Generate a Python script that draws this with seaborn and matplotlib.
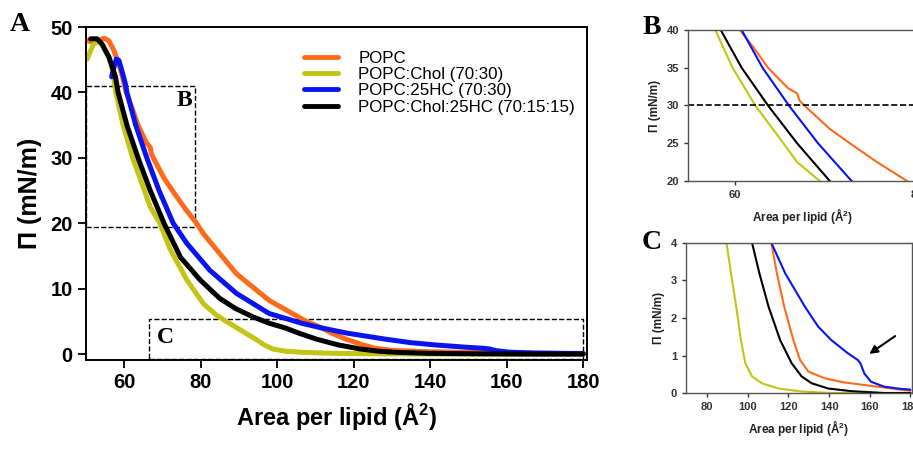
import numpy as np
import pandas as pd
import matplotlib
matplotlib.use('Agg')
import matplotlib.pyplot as plt
import seaborn as sns
from matplotlib.patches import Rectangle

# isotherm data (area per lipid in A^2, surface pressure in mN/m)
popc_x = [49.9, 51.6, 53.0, 54.7, 56.0, 57.3, 58.5, 59.5, 60.5, 62.0, 63.6, 65.8, 66.8, 67.1, 67.6, 70.4, 72.6,
          75.6, 78.9, 80.7, 89.3, 97.9, 107.3, 111.6, 114.3, 117.9, 122.4, 125.7, 129.8, 137.9, 147.6, 160.6,
          173.6, 180]
popc_y = [48.0, 47.7, 47.8, 48.3, 47.9, 46.4, 44.5, 42.5, 40.0, 37.7, 35.0, 32.3, 31.6, 30.6, 30.0, 26.9, 25.0,
          22.5, 20.0, 18.4, 12.3, 8.2, 5.1, 4.0, 3.19, 2.3, 1.41, 0.88, 0.57, 0.39, 0.28, 0.19,
          0.1, 0.06]

chol_x = [50.3, 51.2, 52.0, 53.0, 54.2, 56.0, 57.0, 57.8, 59.7, 62.2, 65.3, 66.8, 69.3, 72.1, 76.4, 80.7, 84.0,
          86.7, 89.5, 92.0, 94.3, 96.6, 98.8, 102.1, 106.9, 115.0, 126.5, 141, 180]
chol_y = [45.1, 46.4, 47.4, 47.8, 47.3, 45.3, 43.3, 40.0, 35.0, 30.0, 25.0, 22.5, 20.0, 15.9, 11.3, 7.7, 6.0,
          5.0, 4.0, 3.1, 2.3, 1.41, 0.79, 0.44, 0.26, 0.12, 0.04, 0.0, 0.0]

hc_x = [56.7, 57.3, 57.9, 58.6, 59.4, 60.3, 60.7, 63.0, 65.9, 69.1, 72.8, 76.4, 82.4, 89.3, 97.9, 106.5, 111.6,
        118.4, 128.1, 134.6, 141.1, 149.2, 154.1, 155.4, 157.3, 160.6, 167.0, 175.2, 180]
hc_y = [42.4, 43.8, 45.1, 44.9, 43.3, 41.3, 40.0, 35.0, 30.0, 25.0, 20.0, 16.9, 12.8, 9.3, 6.2, 4.7, 4.0,
        3.19, 2.3, 1.77, 1.41, 1.06, 0.88, 0.79, 0.52, 0.30, 0.17, 0.11, 0.09]

mix_x = [51.2, 52.9, 54.2, 56.0, 57.7, 58.4, 60.7, 63.6, 66.8, 70.4, 74.7, 79.9, 85.0, 89.0, 93.6, 98.0, 102.1,
         105.7, 110.2, 115.9, 121.6, 126.5, 131.4, 139.5, 150.8, 167, 180]
mix_y = [48.2, 48.2, 47.4, 45.4, 42.4, 40.0, 35.0, 30.0, 25.0, 20.0, 14.8, 11.3, 8.5, 7.0, 5.7, 4.7, 4.0,
         3.19, 2.3, 1.41, 0.79, 0.44, 0.26, 0.12, 0.05, 0.0, 0.0]

labels = ['POPC', 'POPC:Chol (70:30)', 'POPC:25HC (70:30)', 'POPC:Chol:25HC (70:15:15)']
colors = ['#FF6A1A', '#C4C414', '#0A14F0', '#000000']

frames = []
for lab, xs, ys in zip(labels, [popc_x, chol_x, hc_x, mix_x], [popc_y, chol_y, hc_y, mix_y]):
    frames.append(pd.DataFrame({'area': xs, 'pi': ys, 'sample': lab}))
df = pd.concat(frames, ignore_index=True)
palette = dict(zip(labels, colors))

sns.set_style('ticks')
plt.rcParams['font.family'] = ['Liberation Sans Narrow', 'Liberation Sans', 'DejaVu Sans']
plt.rcParams['mathtext.fontset'] = 'custom'
plt.rcParams['mathtext.rm'] = 'Liberation Sans'
plt.rcParams['mathtext.bf'] = 'Liberation Sans:bold'
plt.rcParams['text.color'] = 'black'
plt.rcParams['axes.labelcolor'] = 'black'
plt.rcParams['xtick.color'] = 'black'
plt.rcParams['ytick.color'] = 'black'
plt.rcParams['axes.edgecolor'] = 'black'

fig = plt.figure(figsize=(9.13, 4.51), dpi=100)

# main panel A
ax = fig.add_axes([0.0942, 0.2018, 0.5488, 0.7382])
sns.lineplot(data=df, x='area', y='pi', hue='sample', palette=palette, sort=False,
             estimator=None, lw=3.6, ax=ax)
ax.set_xlim(50, 181)
ax.set_ylim(-0.9, 50)
ax.set_xticks([60, 80, 100, 120, 140, 160, 180])
ax.set_yticks([0, 10, 20, 30, 40, 50])
ax.tick_params(labelsize=14.5, width=1.3, length=6, direction='out')
for t in ax.get_xticklabels() + ax.get_yticklabels():
    t.set_fontweight('bold')
for s in ax.spines.values():
    s.set_linewidth(1.4)
ax.set_xlabel(r'Area per lipid (Å$^{\mathbf{2}}$)', fontsize=17, fontweight='bold', labelpad=6)
ax.set_ylabel('Π (mN/m)', fontsize=18, fontweight='bold', labelpad=6)

ax.add_patch(Rectangle((50, 19.5), 28.5, 21.5, fill=False, ls='--', lw=1.0, ec='black', clip_on=False))
ax.add_patch(Rectangle((66.5, -0.7), 113.5, 6.0, fill=False, ls='--', lw=1.0, ec='black', clip_on=False))
ax.text(75.7, 38.7, 'B', fontsize=17, fontweight='bold', family='Liberation Serif', ha='center', va='center')
ax.text(70.8, 2.6, 'C', fontsize=17, fontweight='bold', family='Liberation Serif', ha='center', va='center')

leg = ax.legend(loc='upper left', bbox_to_anchor=(0.405, 0.975), frameon=False, fontsize=12.2,
                handlelength=2.0, labelspacing=0.08, handletextpad=1.2)
for line in leg.get_lines():
    line.set_linewidth(3.5)
for t in leg.get_texts():
    t.set_family(['Liberation Sans', 'DejaVu Sans'])

fig.text(0.022, 0.945, 'A', fontsize=20, fontweight='bold', family='Liberation Serif', ha='center', va='center')
fig.text(0.714, 0.938, 'B', fontsize=20, fontweight='bold', family='Liberation Serif', ha='center', va='center')
fig.text(0.714, 0.462, 'C', fontsize=20, fontweight='bold', family='Liberation Serif', ha='center', va='center')


def style_inset(a):
    a.tick_params(labelsize=8, width=1.0, length=3, direction='out', colors='#333333')
    for t in a.get_xticklabels() + a.get_yticklabels():
        t.set_fontweight('bold')
    for s in a.spines.values():
        s.set_linewidth(1.0)
        s.set_color('#555555')
    a.set_xlabel(r'Area per lipid (Å$^{\mathbf{2}}$)', fontsize=8.5, fontweight='bold', color='#222222')
    a.set_ylabel('Π (mN/m)', fontsize=8.5, fontweight='bold', color='#222222')


# inset B (its right edge runs just past the figure, as in the original)
axb = fig.add_axes([0.7536, 0.5987, 0.2508, 0.3348])
sns.lineplot(data=df, x='area', y='pi', hue='sample', palette=palette, sort=False,
             estimator=None, lw=1.5, ax=axb, legend=False)
axb.axhline(30, color='black', ls='--', lw=1.2)
axb.set_xlim(54.8, 80)
axb.set_ylim(20, 40)
axb.set_xticks([60, 80])
axb.set_yticks([20, 25, 30, 35, 40])
style_inset(axb)

# inset C
axc = fig.add_axes([0.7514, 0.1286, 0.2476, 0.3326])
sns.lineplot(data=df, x='area', y='pi', hue='sample', palette=palette, sort=False,
             estimator=None, lw=1.5, ax=axc, legend=False)
axc.set_xlim(69.6, 180.8)
axc.set_ylim(0, 4)
axc.set_xticks([80, 100, 120, 140, 160, 180])
axc.set_yticks([0, 1, 2, 3, 4])
style_inset(axc)
axc.annotate('', xy=(158.6, 1.0), xytext=(173.6, 1.56),
             arrowprops=dict(arrowstyle='-|>', color='black', lw=1.5, mutation_scale=12))

fig.savefig('out.png', dpi=100)
